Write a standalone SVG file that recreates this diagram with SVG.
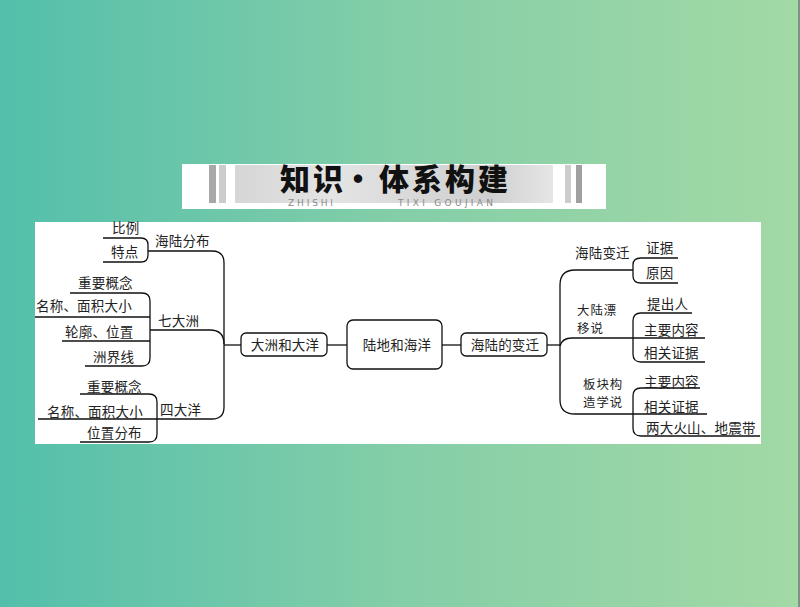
<svg xmlns="http://www.w3.org/2000/svg" width="800" height="607" viewBox="0 0 800 607">
<defs>
<linearGradient id="bg" x1="0" y1="0" x2="1" y2="0">
<stop offset="0" stop-color="#53bfab"/>
<stop offset="0.5" stop-color="#84cea8"/>
<stop offset="1" stop-color="#a3d9a5"/>
</linearGradient>
<linearGradient id="ban" x1="0" y1="0" x2="1" y2="0">
<stop offset="0" stop-color="#d6d6d6"/>
<stop offset="0.3" stop-color="#e4e4e4"/>
<stop offset="0.8" stop-color="#cfcfcf"/>
<stop offset="1" stop-color="#e6e6e6"/>
</linearGradient>
<style>
.t{font-family:"Noto Sans CJK SC","Noto Sans",sans-serif;font-size:13.5px;fill:#222;letter-spacing:0.2px}
.t2{font-family:"Noto Sans CJK SC","Noto Sans",sans-serif;font-size:12.4px;fill:#222;letter-spacing:1px}
.ln{fill:none;stroke:#111;stroke-width:1.3}
.box{fill:#fff;stroke:#111;stroke-width:1.3}
.sub{font-family:"DejaVu Sans",sans-serif;font-size:9px;fill:#8a8a8a}
</style>
</defs>
<rect x="0" y="0" width="800" height="607" fill="url(#bg)"/>
<rect x="798" y="0" width="2" height="607" fill="#7f9286"/>

<g id="banner">
<rect x="182" y="164" width="424" height="45" fill="#fff"/>
<rect x="209" y="165" width="7" height="38" fill="#a8a8a8"/>
<rect x="219" y="165" width="7" height="38" fill="#cccccc"/>
<rect x="235" y="165" width="318" height="38" fill="url(#ban)"/>
<rect x="565" y="165" width="6" height="38" fill="#cccccc"/>
<rect x="576" y="165" width="6" height="38" fill="#a0a0a0"/>
<text x="280 313 343 379 412 445 478" y="190" font-family="'Noto Sans CJK SC',sans-serif" font-size="30" font-weight="900" fill="#111">知识·体系构建</text>
<text class="sub" x="288" y="206" textLength="45">ZHISHI</text>
<text class="sub" x="398" y="206" textLength="95">TIXI GOUJIAN</text>
</g>

<rect id="panel" x="35" y="222" width="726" height="222" fill="#fff"/>

<g id="connectors">
<path class="ln" d="M103,238 H141 Q148,238 148,245 V255 Q148,262 141,262 H103"/>
<path class="ln" d="M148,251 H212 Q224,251 224,263 V407 Q224,419 212,419 H38"/>
<path class="ln" d="M150,330 H210 Q224,330 224,344"/>
<path class="ln" d="M224,345 H241"/>
<path class="ln" d="M70,293 H142 Q150,293 150,301 V358 Q150,366 142,366 H85"/>
<path class="ln" d="M35,317 H150"/>
<path class="ln" d="M62,341 H150"/>
<path class="ln" d="M80,394 H149 Q157,394 157,402 V434 Q157,442 149,442 H80"/>
<path class="ln" d="M327,345 H347"/>
<path class="ln" d="M442,345 H461"/>
<path class="ln" d="M546,345 H560"/>
<path class="ln" d="M575,270 Q560,270 560,285 V400 Q560,414 575,414 H707"/>
<path class="ln" d="M575,270 H633"/>
<path class="ln" d="M678,258 H641 Q633,258 633,265 V276 Q633,283 641,283 H678"/>
<path class="ln" d="M560,346 Q562,338 572,338 H705"/>
<path class="ln" d="M692,313 H641 Q633,313 633,321 V354 Q633,362 641,362 H705"/>
<path class="ln" d="M700,388 H641 Q633,388 633,396 V428 Q633,436 641,436 H760"/>
</g>

<g id="root"><rect class="box" x="347" y="320" width="95" height="49" rx="6"/><text class="t" x="397" y="350" text-anchor="middle">陆地和海洋</text></g>
<g id="dazhou"><rect class="box" x="241" y="333" width="86" height="23" rx="5"/><text class="t" x="285" y="350" text-anchor="middle">大洲和大洋</text></g>
<g id="bianqian"><rect class="box" x="461" y="333" width="86" height="23" rx="5"/><text class="t" x="505" y="350" text-anchor="middle">海陆的变迁</text></g>

<g id="hailufenbu"><text class="t" x="155" y="246">海陆分布</text></g>
<g id="bili"><text class="t" x="112" y="233">比例</text></g>
<g id="tedian"><text class="t" x="111" y="257">特点</text></g>
<g id="qidazhou"><text class="t" x="158" y="326">七大洲</text></g>
<g id="zhou-gainian"><text class="t" x="78" y="288">重要概念</text></g>
<g id="zhou-mingcheng"><text class="t" x="36" y="311">名称、面积大小</text></g>
<g id="zhou-lunkuo"><text class="t" x="65" y="337">轮廓、位置</text></g>
<g id="zhou-jiexian"><text class="t" x="93" y="362">洲界线</text></g>
<g id="sidayang"><text class="t" x="160" y="415">四大洋</text></g>
<g id="yang-gainian"><text class="t" x="87" y="392">重要概念</text></g>
<g id="yang-mingcheng"><text class="t" x="47" y="417">名称、面积大小</text></g>
<g id="yang-weizhi"><text class="t" x="87" y="438">位置分布</text></g>

<g id="hailubianqian"><text class="t" x="575" y="258">海陆变迁</text></g>
<g id="zhengju"><text class="t" x="646" y="253">证据</text></g>
<g id="yuanyin"><text class="t" x="646" y="278">原因</text></g>
<g id="piaoyi"><text class="t2"><tspan x="577" y="315">大陆漂</tspan><tspan x="577" y="333">移说</tspan></text></g>
<g id="tichuren"><text class="t" x="647" y="309">提出人</text></g>
<g id="py-neirong"><text class="t" x="644" y="335">主要内容</text></g>
<g id="py-zhengju"><text class="t" x="644" y="358">相关证据</text></g>
<g id="bankuai"><text class="t2"><tspan x="583" y="389">板块构</tspan><tspan x="583" y="407">造学说</tspan></text></g>
<g id="bk-neirong"><text class="t" x="644" y="387">主要内容</text></g>
<g id="bk-zhengju"><text class="t" x="644" y="412">相关证据</text></g>
<g id="bk-huoshan"><text class="t" x="646" y="433">两大火山、地震带</text></g>
</svg>
